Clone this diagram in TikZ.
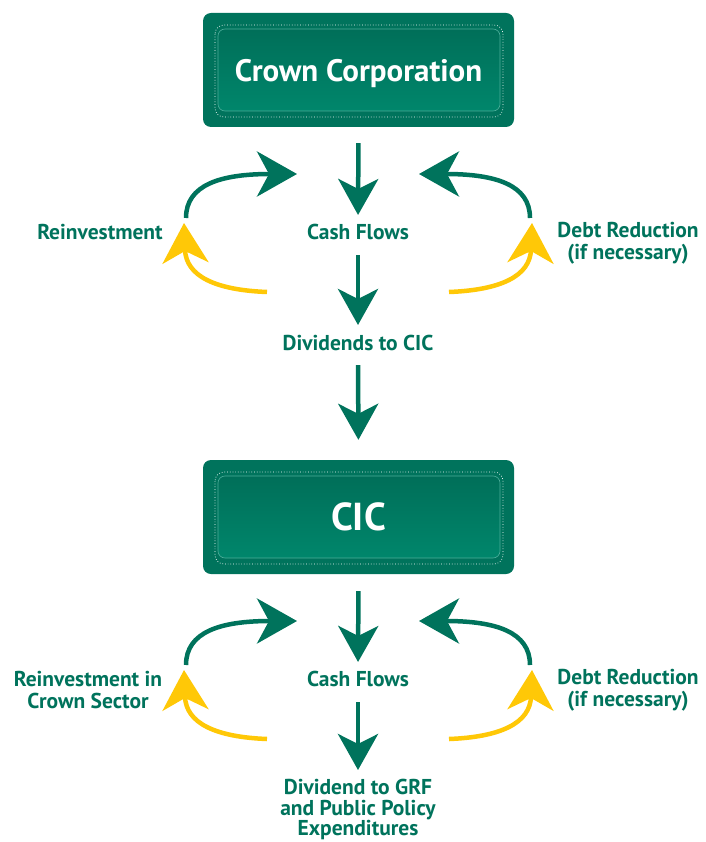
\documentclass[tikz,border=0pt]{standalone}
\usepackage{fontspec}
\setmainfont{PT Sans}
\usepackage{xcolor}
\usepackage{tikz}
\usetikzlibrary{arrows.meta}
\definecolor{cicgreen}{HTML}{00735C}
\definecolor{cicdark}{HTML}{006A55}
\definecolor{ciclight}{HTML}{008B6F}
\definecolor{cicyellow}{HTML}{FFC807}

\tikzset{
  cicbox/.style={rounded corners=8pt, fill=cicgreen, text=white,
    minimum width=311pt, minimum height=114pt, inner sep=0pt, text depth=0pt,
    path picture={
      \shade[top color=cicdark, bottom color=ciclight, draw=ciclight!70!white,
        line width=0.6pt, rounded corners=7pt]
        ([shift={(15pt,-16pt)}]path picture bounding box.north west) rectangle
        ([shift={(-14pt,16pt)}]path picture bounding box.south east);
      \draw[white, dotted, line width=0.7pt, rounded corners=9pt]
        ([shift={(12pt,-12pt)}]path picture bounding box.north west) rectangle
        ([shift={(-11pt,10pt)}]path picture bounding box.south east);
    }},
  lbl/.style={text=cicgreen, font=\fontsize{21.5}{22}\selectfont\bfseries,
    align=center, inner sep=0pt},
  down/.style={draw=cicgreen, line width=4.5pt,
    -{Stealth[length=36pt,width=40pt,inset=10pt]}},
  loopg/.style={draw=cicgreen, line width=4.5pt,
    -{Stealth[length=40pt,width=45pt,inset=12pt]}},
  loopy/.style={draw=cicyellow, line width=4.5pt,
    -{Stealth[length=40pt,width=46pt,inset=12pt]}},
}

\begin{document}
\begin{tikzpicture}[x=1pt,y=-1pt]
  \useasboundingbox (0,0) rectangle (705,842);

  % upper part
  \node[cicbox, font=\fontsize{31}{34}\selectfont\bfseries] (crown) at (358.5,70) {Crown Corporation};
  \node[lbl] (cf1) at (358,232) {Cash Flows};
  \node[lbl] (div1) at (358,343) {Dividends to CIC};
  \node[lbl] (reinv1) at (100,232) {Reinvestment};
  \node[lbl] (debt1) at (628,243) {Debt Reduction\\(if necessary)};

  \draw[down, shorten <=16pt, shorten >=9pt] (crown.south) -- (cf1.north);
  \draw[down, shorten <=15pt, shorten >=10pt] (cf1.south) -- (div1.north);

  \coordinate (gl1s) at (186,218);
  \coordinate (gl1e) at (297,174);
  \coordinate (yl1s) at (267,292);
  \coordinate (yl1e) at (184,223);
  \coordinate (gr1s) at (530,218);
  \coordinate (gr1e) at (419,174);
  \coordinate (yr1s) at (449,292);
  \coordinate (yr1e) at (532,223);
  \draw[loopg] (gl1s) .. controls (186,185) and (220,174) .. (gl1e);
  \draw[loopy] (yl1s) .. controls (215,290) and (186,276) .. (yl1e);
  \draw[loopg] (gr1s) .. controls (530,185) and (496,174) .. (gr1e);
  \draw[loopy] (yr1s) .. controls (501,290) and (530,276) .. (yr1e);

  % lower part
  \node[cicbox, font=\fontsize{39}{42}\selectfont\bfseries] (cic) at (358.5,517) {CIC};
  \draw[down, shorten <=14pt, shorten >=20pt] (div1.south) -- (cic.north);

  \node[lbl] (cf2) at (358,679) {Cash Flows};
  \node[lbl, anchor=north, font=\fontsize{21.5}{20.5}\selectfont\bfseries] (div2) at (358,779) {Dividend to GRF\\and Public Policy\\Expenditures};
  \node[lbl] (reinv2) at (88,690) {Reinvestment in\\Crown Sector};
  \node[lbl] (debt2) at (628,690) {Debt Reduction\\(if necessary)};

  \draw[down, shorten <=17pt, shorten >=9pt] (cic.south) -- (cf2.north);
  \draw[down, shorten <=15pt, shorten >=9pt] (cf2.south) -- (div2.north);

  \coordinate (gl2s) at (186,665);
  \coordinate (gl2e) at (297,621);
  \coordinate (yl2s) at (267,739);
  \coordinate (yl2e) at (184,670);
  \coordinate (gr2s) at (530,665);
  \coordinate (gr2e) at (419,621);
  \coordinate (yr2s) at (449,739);
  \coordinate (yr2e) at (532,670);
  \draw[loopg] (gl2s) .. controls (186,632) and (220,621) .. (gl2e);
  \draw[loopy] (yl2s) .. controls (215,737) and (186,723) .. (yl2e);
  \draw[loopg] (gr2s) .. controls (530,632) and (496,621) .. (gr2e);
  \draw[loopy] (yr2s) .. controls (501,737) and (530,723) .. (yr2e);
\end{tikzpicture}
\end{document}
